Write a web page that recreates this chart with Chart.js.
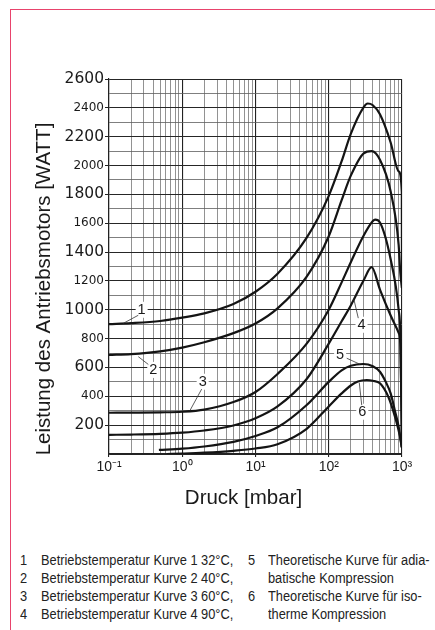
<!DOCTYPE html>
<html>
<head>
<meta charset="utf-8">
<script src="https://cdn.jsdelivr.net/npm/chart.js@4.4.1/dist/chart.umd.min.js"></script>
<style>
  html, body { margin: 0; padding: 0; background: #fff; }
  body { width: 435px; height: 630px; position: relative; overflow: hidden; }
  #frame { position: absolute; left: 10px; top: 9px; width: 440px; height: 640px;
           border-left: 1.5px solid #e8436c; border-top: 1.5px solid #e8436c; }
  #wrap { position: absolute; left: 0; top: 0; width: 435px; height: 530px; }
  .notes { position: absolute; top: 551px; font-family: "Liberation Sans", Arial, sans-serif;
           font-size: 15.5px; line-height: 18px; color: #222; white-space: nowrap;
           transform: scaleX(0.826); transform-origin: 0 0; }
</style>
</head>
<body>
<div id="frame"></div>
<div id="wrap"><canvas id="chart"></canvas></div>
<div class="notes" style="left:20px">1<br>2<br>3<br>4</div>
<div class="notes" style="left:41px">Betriebstemperatur Kurve 1 32°C,<br>Betriebstemperatur Kurve 2 40°C,<br>Betriebstemperatur Kurve 3 60°C,<br>Betriebstemperatur Kurve 4 90°C,</div>
<div class="notes" style="left:248px">5<br><br>6</div>
<div class="notes" style="left:268px">Theoretische Kurve für adia-<br>batische Kompression<br>Theoretische Kurve für iso-<br>therme Kompression</div>
<script>
// pressure in mbar, power in watt
const curve1P = [0.1, 0.2, 0.5, 1, 2, 5, 10, 20, 50, 100, 150, 200, 300, 340, 400, 500, 700, 900, 995, 1000];
const curve1W = [900, 907, 922, 945, 975, 1040, 1125, 1250, 1500, 1790, 2030, 2220, 2405, 2430, 2418, 2355, 2160, 1960, 1815, 1150];

const curve2P = [0.1, 0.2, 0.5, 1, 2, 5, 10, 20, 50, 100, 150, 200, 300, 385, 500, 700, 900, 950, 1000];
const curve2W = [687, 693, 712, 738, 775, 838, 905, 1010, 1230, 1510, 1760, 1930, 2085, 2100, 2040, 1820, 1450, 1250, 1150];

const curve3P = [0.1, 0.2, 0.5, 1, 2, 5, 10, 20, 50, 100, 150, 200, 300, 400, 430, 500, 700, 900, 950, 1000];
const curve3W = [286, 287, 289, 293, 308, 360, 430, 555, 765, 1000, 1190, 1330, 1515, 1615, 1625, 1605, 1350, 1000, 820, 60];

const curve4P = [0.1, 0.2, 0.5, 1, 2, 5, 10, 20, 50, 100, 150, 200, 300, 385, 500, 700, 900, 950, 1000];
const curve4W = [133, 135, 140, 148, 163, 198, 248, 330, 520, 765, 920, 1030, 1205, 1295, 1140, 960, 840, 760, 40];

const curve5P = [0.48, 1, 2, 5, 10, 20, 50, 100, 150, 200, 296, 400, 500, 600, 700, 800, 900, 990];
const curve5W = [28, 37, 52, 84, 125, 185, 340, 500, 580, 612, 624, 608, 570, 500, 420, 300, 190, 50];

const curve6P = [0.62, 1, 2, 5, 10, 20, 50, 100, 150, 200, 250, 330, 400, 500, 650, 800, 940, 995];
const curve6W = [0, 3, 9, 22, 38, 68, 175, 330, 420, 475, 503, 513, 508, 490, 397, 260, 119, 45];

const xTickText = ['10⁻¹', '10⁰', '10¹', '10²', '10³'];

// curve numbers and their leader lines (data units)
const labelText = ['1', '2', '3', '4', '5', '6'];
const labelP = [0.279, 0.402, 1.90, 280, 143, 287];
const labelW = [1000, 583, 501, 896, 687, 293];
const leaderP0 = [0.251, 0.344, 1.84, 253, 176, 282];
const leaderW0 = [962, 621, 450, 942, 664, 339];
const leaderP1 = [0.157, 0.251, 1.27, 221, 267, 261];
const leaderW1 = [906, 675, 300, 1070, 622, 495];

const curves = [
    [curve1P, curve1W], [curve2P, curve2W], [curve3P, curve3W],
    [curve4P, curve4W], [curve5P, curve5W], [curve6P, curve6W]
];

const datasets = curves.map(([p, w]) => ({
    data: p.map((v, i) => ({ x: v, y: w[i] })),
    borderColor: "#141414",
    borderWidth: 2.2,
    pointRadius: 0,
    fill: false,
    cubicInterpolationMode: "monotone"
}));

const isDecade = v => Math.abs(Math.log10(v) - Math.round(Math.log10(v))) < 1e-9;

const annotate = {
    id: "annotate",
    afterDatasetsDraw(chart) {
        const { ctx, scales: { x, y } } = chart;
        ctx.save();
        ctx.font = '14.5px "Liberation Sans", Arial, sans-serif';
        ctx.textAlign = "center";
        ctx.textBaseline = "middle";
        labelText.forEach((t, i) => {
            const lx = x.getPixelForValue(labelP[i]);
            const ly = y.getPixelForValue(labelW[i]);
            ctx.fillStyle = "#fff";
            ctx.fillRect(lx - 6, ly - 8, 12, 16);
            ctx.strokeStyle = "#333";
            ctx.lineWidth = 0.8;
            ctx.beginPath();
            ctx.moveTo(x.getPixelForValue(leaderP0[i]), y.getPixelForValue(leaderW0[i]));
            ctx.lineTo(x.getPixelForValue(leaderP1[i]), y.getPixelForValue(leaderW1[i]));
            ctx.stroke();
            ctx.fillStyle = "#1a1a1a";
            ctx.fillText(t, lx, ly);
        });

        // axis titles
        ctx.font = '20.5px "Liberation Sans", Arial, sans-serif';
        ctx.fillStyle = "#1a1a1a";
        ctx.textBaseline = "alphabetic";
        ctx.fillText("Druck [mbar]", 243.5, 503.5);
        ctx.translate(50, 289);
        ctx.rotate(-Math.PI / 2);
        ctx.fillText("Leistung des Antriebsmotors [WATT]", 0, 0);
        ctx.restore();
    }
};

new Chart(document.getElementById("chart").getContext("2d"), {
    type: "line",
    data: { datasets: datasets },
    plugins: [annotate],
    options: {
        responsive: true,
        maintainAspectRatio: false,
        animation: false,
        devicePixelRatio: 1,
        layout: { padding: { top: 79, right: 33, left: 0, bottom: 0 } },
        plugins: { legend: { display: false }, tooltip: { enabled: false } },
        scales: {
            x: {
                type: "logarithmic",
                min: 0.1,
                max: 1000,
                afterBuildTicks: s => {
                    const t = [];
                    for (let e = -1; e < 3; e++) {
                        for (let m = 1; m < 10; m++) t.push({ value: m * Math.pow(10, e) });
                    }
                    t.push({ value: 1000 });
                    s.ticks = t;
                },
                afterFit: s => { s.height = 76; },
                ticks: {
                    autoSkip: false,
                    maxRotation: 0,
                    padding: 2,
                    color: "#1a1a1a",
                    font: { family: "Liberation Sans", size: 14 },
                    callback: v => isDecade(v) ? xTickText[Math.round(Math.log10(v)) + 1] : ""
                },
                grid: {
                    color: c => isDecade(c.tick.value) ? "#222" : "#767676",
                    lineWidth: c => isDecade(c.tick.value) ? 1.1 : 0.8,
                    tickLength: 3,
                    tickColor: c => isDecade(c.tick.value) ? "#222" : "rgba(0,0,0,0)"
                },
                border: { color: "#222", width: 1.2 }
            },
            y: {
                min: 0,
                max: 2600,
                afterFit: s => { s.width = 109; },
                ticks: {
                    stepSize: 100,
                    autoSkip: false,
                    padding: 1,
                    color: "#1a1a1a",
                    font: c => ({ family: "DejaVu Sans", size: c.tick && c.tick.value % 400 === 200 ? 15.5 : 12 }),
                    callback: v => (v % 200 === 0 && v > 0) ? String(v) : ""
                },
                grid: {
                    color: c => c.tick.value % 200 === 0 ? "#262626" : "#5e5e5e",
                    lineWidth: c => c.tick.value % 200 === 0 ? 1 : 0.8,
                    tickLength: 4,
                    tickColor: c => (c.tick.value % 200 === 0 && c.tick.value > 0) ? "#222" : "rgba(0,0,0,0)"
                },
                border: { color: "#222", width: 1.2 }
            }
        }
    }
});
</script>
</body>
</html>
